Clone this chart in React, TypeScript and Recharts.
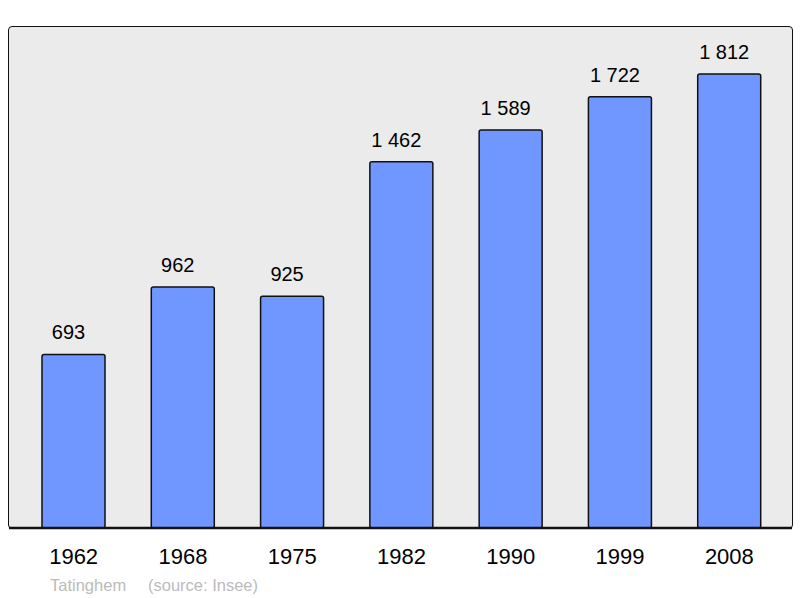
import React from "react";
import { BarChart, Bar, XAxis, YAxis, LabelList } from "recharts";

const years = ["1962", "1968", "1975", "1982", "1990", "1999", "2008"];
const population = [693, 962, 925, 1462, 1589, 1722, 1812];
const commune = "Tatinghem";
const source = "(source: Insee)";

const data = years.map((y, i) => ({ year: y, pop: population[i] }));

const fmt = (v: any) => String(v).replace(/\B(?=(\d{3})+(?!\d))/g, "\u00a0");

const FONT = "'Liberation Sans', Arial, sans-serif";

export default function App() {
  return (
    <div style={{ position: "absolute", left: 0, top: 0, width: 800, height: 598, background: "#fff", fontFamily: FONT }}>
      <div
        style={{
          position: "absolute",
          left: 8,
          top: 26,
          width: 785,
          height: 503,
          boxSizing: "border-box",
          border: "1.6px solid #111",
          borderRadius: 4,
          background: "#ebebeb",
        }}
      />
      <div style={{ position: "absolute", left: 0, top: 0 }}>
        <BarChart width={800} height={598} data={data} margin={{ top: 27, right: 8, bottom: 40, left: 9 }}>
          <XAxis
            dataKey="year"
            height={30}
            padding={{ left: 10, right: 8 }}
            axisLine={{ stroke: "#111", strokeWidth: 2.5 }}
            tickLine={false}
            tickSize={0}
            tickMargin={20}
            tick={{ fill: "#000", fontSize: 22, fontFamily: FONT }}
            interval={0}
          />
          <YAxis hide domain={[0, 2000]} />
          <Bar dataKey="pop" fill="#7096ff" stroke="#111" strokeWidth={1.5} barSize={63} radius={2} isAnimationActive={false}>
            <LabelList dataKey="pop" position="top" offset={15} dx={-5} formatter={fmt} style={{ fill: "#000", fontSize: 20, fontFamily: FONT }} />
          </Bar>
        </BarChart>
      </div>
      <div style={{ position: "absolute", left: 50, top: 576, fontSize: 16.5, color: "#bbb", whiteSpace: "nowrap" }}>{commune}</div>
      <div style={{ position: "absolute", left: 148, top: 576, fontSize: 16.5, color: "#bbb", whiteSpace: "nowrap" }}>{source}</div>
    </div>
  );
}
